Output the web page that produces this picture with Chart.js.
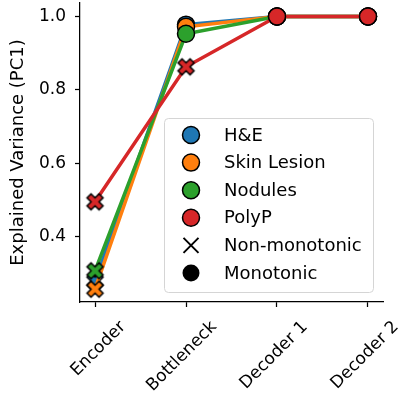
<!DOCTYPE html>
<html>
<head>
<meta charset="utf-8">
<script src="https://cdn.jsdelivr.net/npm/chart.js@4.4.1/dist/chart.umd.min.js"></script>
<style>
  html, body { margin: 0; padding: 0; background: #ffffff; }
  #wrap { width: 402px; height: 393px; }
</style>
</head>
<body>
<div id="wrap"><canvas id="graph" width="402" height="393"></canvas></div>
<script>
// data
var stages = ['Encoder', 'Bottleneck', 'Decoder 1', 'Decoder 2'];
var seriesNames = ['H&E', 'Skin Lesion', 'Nodules', 'PolyP'];
var colors = ['#1f77b4', '#ff7f0e', '#2ca02c', '#d62728'];
var hneValues = [0.279, 0.978, 1.0, 1.0];
var skinValues = [0.257, 0.972, 1.0, 1.0];
var noduleValues = [0.307, 0.953, 1.0, 1.0];
var polypValues = [0.495, 0.863, 1.0, 1.0];
// 1 = non-monotonic step (X marker), 0 = monotonic (circle)
var hneNonMono = [1, 0, 0, 0];
var skinNonMono = [1, 0, 0, 0];
var noduleNonMono = [1, 0, 0, 0];
var polypNonMono = [1, 1, 0, 0];
var yTicks = [0.4, 0.6, 0.8, 1.0];
var markerLabels = ['Non-monotonic', 'Monotonic'];

var FONT = 'DejaVu Sans';
var MS = 17; // marker size in px

// filled "X" marker like matplotlib, drawn once per colour
function makeX(fill, size) {
    var c = document.createElement('canvas');
    var d = Math.ceil(size + 4);
    c.width = d; c.height = d;
    var g = c.getContext('2d');
    var pts = [[-1,-3],[1,-3],[1,-1],[3,-1],[3,1],[1,1],[1,3],[-1,3],[-1,1],[-3,1],[-3,-1],[-1,-1]];
    var a = Math.PI / 4;
    g.translate(d / 2, d / 2);
    g.beginPath();
    pts.forEach(function(p, i) {
        var x = p[0] / 6 * size, y = p[1] / 6 * size;
        var rx = x * Math.cos(a) - y * Math.sin(a);
        var ry = x * Math.sin(a) + y * Math.cos(a);
        if (i === 0) g.moveTo(rx, ry); else g.lineTo(rx, ry);
    });
    g.closePath();
    g.fillStyle = fill;
    g.fill();
    g.lineWidth = 1.5;
    g.strokeStyle = '#000000';
    g.stroke();
    return c;
}

var allValues = [hneValues, skinValues, noduleValues, polypValues];
var allFlags = [hneNonMono, skinNonMono, noduleNonMono, polypNonMono];

var datasets = seriesNames.map(function(name, s) {
    var xImg = makeX(colors[s], MS);
    var flags = allFlags[s];
    return {
        label: name,
        data: allValues[s].map(function(v, i) { return {x: i, y: v}; }),
        order: seriesNames.length - s, // later series drawn on top
        borderColor: colors[s],
        backgroundColor: colors[s],
        borderWidth: 3.5,
        tension: 0,
        fill: false,
        clip: false,
        pointStyle: flags.map(function(f) { return f ? xImg : 'circle'; }),
        pointRadius: MS / 2,
        pointHoverRadius: MS / 2,
        pointBackgroundColor: colors[s],
        pointBorderColor: '#000000',
        pointBorderWidth: 1.5
    };
});

// legend box inside the axes, matplotlib style
var boxLegend = {
    id: 'boxLegend',
    afterDatasetsDraw: function(chart) {
        var ctx = chart.ctx;
        var left = 164, top = 118, w = 209, h = 174;
        var rowY = 135, step = 27.6, mx = 191, tx = 224;
        ctx.save();
        ctx.beginPath();
        ctx.roundRect(left + 0.5, top + 0.5, w, h, 4);
        ctx.fillStyle = 'rgba(255,255,255,0.8)';
        ctx.fill();
        ctx.lineWidth = 1;
        ctx.strokeStyle = '#d5d5d5';
        ctx.stroke();

        ctx.font = '18px "' + FONT + '"';
        ctx.textBaseline = 'middle';
        ctx.textAlign = 'left';
        var rows = seriesNames.concat(markerLabels);
        rows.forEach(function(label, i) {
            var y = rowY + i * step;
            if (i < seriesNames.length) {
                ctx.beginPath();
                ctx.arc(mx, y, MS / 2, 0, Math.PI * 2);
                ctx.fillStyle = colors[i];
                ctx.fill();
                ctx.lineWidth = 1.5;
                ctx.strokeStyle = '#000000';
                ctx.stroke();
            } else if (label === 'Non-monotonic') {
                var r = 7.5;
                ctx.beginPath();
                ctx.moveTo(mx - r, y - r); ctx.lineTo(mx + r, y + r);
                ctx.moveTo(mx - r, y + r); ctx.lineTo(mx + r, y - r);
                ctx.lineWidth = 2;
                ctx.strokeStyle = '#000000';
                ctx.stroke();
            } else {
                ctx.beginPath();
                ctx.arc(mx, y, MS / 2, 0, Math.PI * 2);
                ctx.fillStyle = '#000000';
                ctx.fill();
            }
            ctx.fillStyle = '#000000';
            ctx.fillText(label, tx, y + 1);
        });
        ctx.restore();
    }
};

var ctx = document.getElementById('graph');
var chart = new Chart(ctx, {
    type: 'line',
    data: { datasets: datasets },
    plugins: [boxLegend],
    options: {
        responsive: false,
        animation: false,
        maintainAspectRatio: false,
        layout: { autoPadding: false, padding: { top: 3, right: 19, left: 0, bottom: 0 } },
        plugins: {
            legend: { display: false },
            tooltip: { enabled: false }
        },
        scales: {
            x: {
                type: 'linear',
                min: -0.165,
                max: 3.165,
                afterBuildTicks: function(scale) {
                    scale.ticks = stages.map(function(s, i) { return {value: i}; });
                },
                afterFit: function(scale) {
                    scale.height = 91;
                    scale.paddingLeft = 0;
                    scale.paddingRight = 0;
                },
                ticks: {
                    autoSkip: false,
                    minRotation: 45,
                    maxRotation: 45,
                    labelOffset: 28,
                    padding: 10,
                    color: '#000000',
                    font: { family: FONT, size: 17 },
                    callback: function(v) { return stages[v]; }
                },
                grid: {
                    drawOnChartArea: false,
                    drawTicks: true,
                    tickLength: 5,
                    tickWidth: 1.25,
                    tickColor: '#000000'
                },
                border: { display: true, color: '#000000', width: 1.25 }
            },
            y: {
                type: 'linear',
                min: 0.222,
                max: 1.037,
                afterBuildTicks: function(scale) {
                    scale.ticks = yTicks.map(function(v) { return {value: v}; });
                },
                afterFit: function(scale) {
                    scale.width = 80;
                    scale.paddingTop = 0;
                    scale.paddingBottom = 0;
                },
                title: {
                    display: true,
                    text: 'Explained Variance (PC1)',
                    color: '#000000',
                    font: { family: FONT, size: 18 },
                    padding: { top: 8, bottom: 0 }
                },
                ticks: {
                    padding: 9,
                    color: '#000000',
                    font: { family: FONT, size: 17, lineHeight: 0.3 },
                    callback: function(v) { return v.toFixed(1); }
                },
                grid: {
                    drawOnChartArea: false,
                    drawTicks: true,
                    tickLength: 5,
                    tickWidth: 1.25,
                    tickColor: '#000000'
                },
                border: { display: true, color: '#000000', width: 1.25 }
            }
        }
    }
});
</script>
</body>
</html>
